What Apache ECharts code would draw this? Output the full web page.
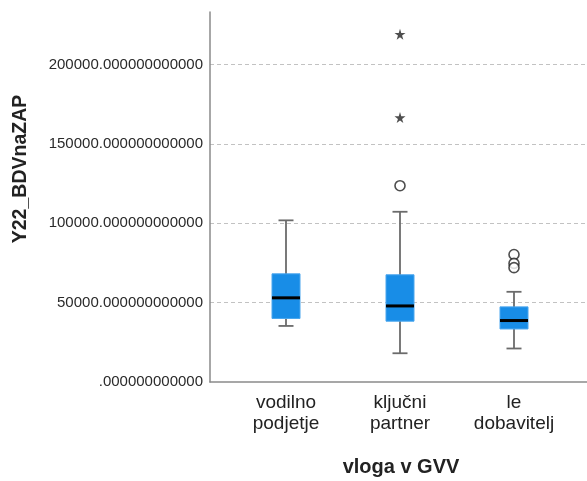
<!DOCTYPE html>
<html>
<head>
<meta charset="utf-8">
<script src="https://cdn.jsdelivr.net/npm/echarts@6/dist/echarts.min.js"></script>
<style>html,body{margin:0;padding:0;background:#fff}#c{width:587px;height:481px}</style>
</head>
<body>
<div id="c"></div>
<script>
const categories = ['vodilno\npodjetje', 'ključni\npartner', 'le\ndobavitelj'];
// [min, Q1, median, Q3, max]
const boxStats = [
  [35300, 40000, 53000, 68100, 101800],
  [18100, 38300, 47900, 67500, 107200],
  [21100, 33400, 38700, 47300, 56800]
];
const outliers = [[1, 123600], [2, 80300], [2, 74700], [2, 72000]];
const extremes = [[1, 166500], [1, 219000]];
const yTicks = [0, 50000, 100000, 150000, 200000];
const yMax = 233000;

const FONT = 'Liberation Sans, Arial, sans-serif';
const chart = echarts.init(document.getElementById('c'), null, {renderer: 'canvas'});
const boxData = boxStats.map((s, i) => [i].concat(s));
const star = 'path://M50,0 L61,35 L98,35 L68,57 L79,91 L50,70 L21,91 L32,57 L2,35 L39,35 Z';

chart.setOption({
  animation: false,
  backgroundColor: '#fff',
  grid: [
    {left: 210, right: 0, top: 12, bottom: 99},
    {left: 229, right: 16, top: 12, bottom: 99}
  ],
  xAxis: [
    {gridIndex: 0, type: 'category', data: categories,
     axisLine: {lineStyle: {color: '#8a8a8a', width: 1.5}},
     axisTick: {show: false}, axisLabel: {show: false}, splitLine: {show: false}},
    {gridIndex: 1, type: 'category', data: categories,
     axisLine: {show: false}, axisTick: {show: false},
     axisLabel: {fontFamily: FONT, fontSize: 19, lineHeight: 21, color: '#222', margin: 10}}
  ],
  yAxis: [
    {gridIndex: 0, type: 'value', min: 0, max: yMax, interval: yTicks[1] - yTicks[0],
     axisLine: {show: true, lineStyle: {color: '#8a8a8a', width: 1.5}},
     axisTick: {show: false},
     axisLabel: {fontFamily: FONT, fontSize: 15, color: '#2a2a2a', margin: 7, showMaxLabel: false,
       formatter: v => (v === 0 ? '' : String(v)) + '.000000000000'},
     splitLine: {show: true, showMaxLine: false, showMinLine: false,
       lineStyle: {color: '#c2c2c2', type: [4, 3], width: 1}}},
    {gridIndex: 1, type: 'value', min: 0, max: yMax, show: false, splitLine: {show: false}}
  ],
  series: [
    {
      type: 'custom', xAxisIndex: 1, yAxisIndex: 1, data: boxData,
      renderItem: function (params, api) {
        const i = api.value(0);
        const x = api.coord([i, 0])[0];
        const y = k => api.coord([i, api.value(k)])[1];
        const yMin = y(1), yQ1 = y(2), yMed = y(3), yQ3 = y(4), yMx = y(5);
        const hw = 14, cw = 7.5;
        const wStyle = {stroke: '#6b6b6b', lineWidth: 1.8};
        return {type: 'group', children: [
          {type: 'line', shape: {x1: x, y1: yMx, x2: x, y2: yMin}, style: wStyle},
          {type: 'line', shape: {x1: x - cw, y1: yMx, x2: x + cw, y2: yMx}, style: wStyle},
          {type: 'line', shape: {x1: x - cw, y1: yMin, x2: x + cw, y2: yMin}, style: wStyle},
          {type: 'rect', shape: {x: x - hw, y: yQ3, width: 2 * hw, height: yQ1 - yQ3},
           style: {fill: '#188de7', stroke: '#4aa6ee', lineWidth: 1}},
          {type: 'line', shape: {x1: x - hw, y1: yMed, x2: x + hw, y2: yMed},
           style: {stroke: '#000', lineWidth: 3}}
        ]};
      }
    },
    {
      type: 'scatter', xAxisIndex: 1, yAxisIndex: 1, data: outliers,
      symbol: 'circle', symbolSize: 10,
      itemStyle: {color: '#fff', borderColor: '#222', borderWidth: 1.6}
    },
    {
      type: 'scatter', xAxisIndex: 1, yAxisIndex: 1, data: extremes,
      symbol: star, symbolSize: 11,
      itemStyle: {color: '#222'}
    }
  ],
  graphic: [
    {type: 'text', x: 21, y: 169, rotation: Math.PI / 2,
     style: {text: 'Y22_BDVnaZAP', font: 'bold 19.5px ' + FONT, fill: '#222',
       align: 'center', verticalAlign: 'middle'}},
    {type: 'text', x: 401, y: 467,
     style: {text: 'vloga v GVV', font: 'bold 20px ' + FONT, fill: '#222',
       align: 'center', verticalAlign: 'middle'}}
  ]
});
</script>
</body>
</html>
